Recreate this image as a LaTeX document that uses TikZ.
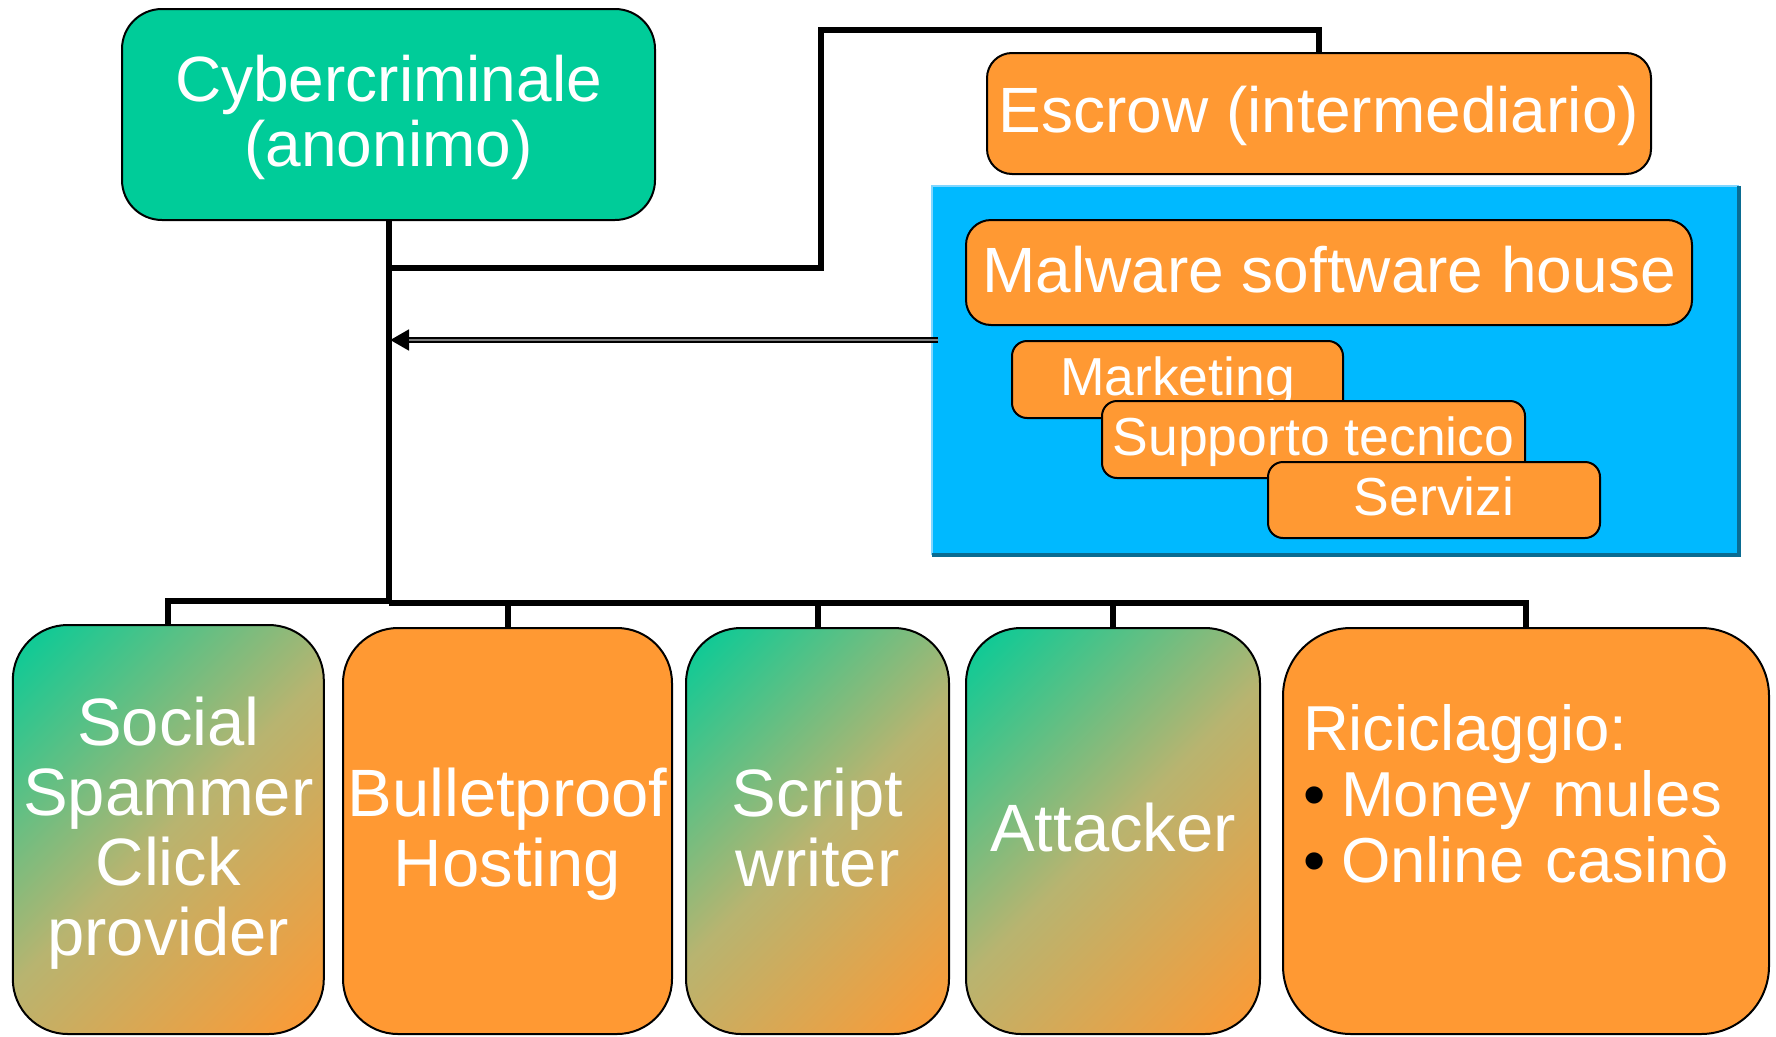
\documentclass[tikz,border=0pt]{standalone}
\usepackage{fontspec}
\setmainfont{Liberation Sans}
\usetikzlibrary{arrows.meta}
\definecolor{cgreen}{HTML}{00CC99}
\definecolor{corange}{HTML}{FF9933}
\definecolor{ctan}{HTML}{B8B470}
\definecolor{cblue}{HTML}{00B9FF}
\definecolor{cbluelight}{HTML}{80D6FF}
\definecolor{cbluedark}{HTML}{0A6C92}
\definecolor{cmidgray}{HTML}{808080}
\newcommand{\tstr}[1]{\rule{0pt}{#1}}
\newcommand{\bstr}[1]{\rule[-#1]{0pt}{#1}}
\begin{document}
\begin{tikzpicture}[x=1pt,y=-1pt,
  box/.style={draw=black, line width=2pt, inner sep=0pt, text=white, align=center},
  conn/.style={line width=6pt, draw=black},
  grad/.style={path picture={\shade[top color=cgreen, bottom color=corange, middle color=ctan, shading angle=45]
      ([shift={(-#1,-#1)}]path picture bounding box.center) rectangle ([shift={(#1,#1)}]path picture bounding box.center);}},
  orangebox/.style={box, fill=corange},
  bigfont/.style={font=\fontsize{67pt}{70pt}\selectfont},
  subfont/.style={font=\fontsize{53.5pt}{56pt}\selectfont},
  bottombox/.style={box, rounded corners=55pt, minimum height=406pt},
]
\useasboundingbox (0,0) rectangle (1776,1036);

% top node
\node[box, fill=cgreen, rounded corners=40pt, minimum width=533pt, minimum height=211pt,
      font=\fontsize{64pt}{65pt}\selectfont] (cyber) at (388.5,114.5) {\tstr{52pt}Cybercriminale\\(anonimo)\bstr{14pt}};

% escrow
\node[orangebox, rounded corners=25pt, minimum width=664pt, minimum height=121pt,
      font=\fontsize{64pt}{66pt}\selectfont] (escrow) at (1319,113.5) {\tstr{52pt}Escrow (intermediario)\bstr{14pt}};

% malware area
\node[fill=cblue, inner sep=0pt, minimum width=807pt, minimum height=369pt] (mwarea) at (1335.5,370.5) {};
\draw[cbluelight, line width=2pt] (mwarea.south west) -- (mwarea.north west) -- (mwarea.north east);
\draw[cbluedark, line width=3.5pt] (mwarea.north east) -- (mwarea.south east) -- (mwarea.south west);

\node[orangebox, rounded corners=25pt, minimum width=726pt, minimum height=105pt,
      font=\fontsize{64pt}{66pt}\selectfont] (malware) at (1329,272.5) {\tstr{53pt}Malware software house\bstr{14pt}};
\node[orangebox, rounded corners=15pt, minimum width=331pt, minimum height=77pt, subfont] (marketing) at (1177.5,379.5) {\tstr{43pt}Marketing\bstr{12pt}};
\node[orangebox, rounded corners=15pt, minimum width=423pt, minimum height=77pt, subfont] (supporto) at (1313.5,439.5) {\tstr{43pt}Supporto tecnico\bstr{12pt}};
\node[orangebox, rounded corners=15pt, minimum width=332pt, minimum height=76pt, subfont] (servizi) at (1434,500) {\tstr{43pt}Servizi\bstr{12pt}};

% bottom boxes
\node[bottombox, grad=255pt, minimum width=311pt, minimum height=409pt, bigfont] (social) at (168.3,829.5) {\tstr{55.5pt}Social\\Spammer\\Click\\provider\bstr{14.5pt}};
\node[bottombox, fill=corange, minimum width=329pt, bigfont] (bullet) at (507.5,831) {\tstr{55.5pt}Bulletproof\\Hosting\bstr{14.5pt}};
\node[bottombox, grad=237pt, minimum width=263pt, bigfont] (script) at (817.5,831) {\tstr{55.5pt}Script\\writer\bstr{14.5pt}};
\node[bottombox, grad=248pt, minimum width=294pt, bigfont] (attacker) at (1113,831) {\tstr{55.5pt}Attacker\bstr{14.5pt}};
\node[bottombox, fill=corange, rounded corners=68pt, minimum width=486pt, align=left, text width=446pt,
      font=\fontsize{63.5pt}{66pt}\selectfont] (ricic) at (1526,831)
  {\tstr{46pt}Riciclaggio:\\\makebox[38pt][l]{\textcolor{black}{•}}Money mules\\\makebox[38pt][l]{\textcolor{black}{•}}Online casinò\bstr{74.6pt}};

% connectors
\coordinate (bus) at (388.5,603);
\coordinate (busL) at (388.5,601);
\coordinate (j1) at (388.5,268);
\coordinate (e1) at (821,268);
\coordinate (e2) at (821,30);
\draw[conn] (cyber.south) -- (bus);
\draw[conn] (j1) -- (e1) -- (e2) -| (escrow.north);
\draw[conn] (social.north) |- (busL);
\draw[conn] (ricic.north) |- (bus);
\draw[conn] (bullet.north) -- (bullet.north |- bus);
\draw[conn] (script.north) -- (script.north |- bus);
\draw[conn] (attacker.north) -- (attacker.north |- bus);

% arrow from malware area
\coordinate (a0) at (938,340);
\coordinate (a1) at (390,340);
\draw[line width=6pt, black, -{Triangle[length=19pt,width=20pt]}] (a0) -- (a1);
\draw[cmidgray, line width=1.3pt, shorten >=19pt] (a0) -- (a1);
\end{tikzpicture}
\end{document}
